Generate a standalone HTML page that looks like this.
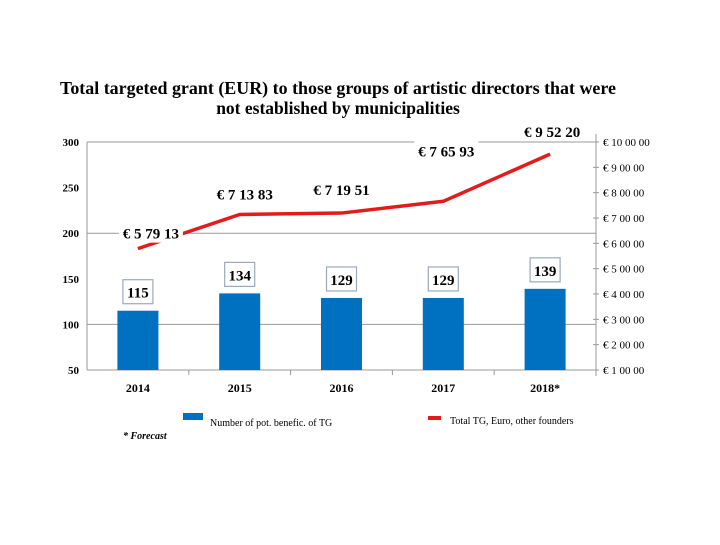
<!DOCTYPE html>
<html><head><meta charset="utf-8"><style>
body{margin:0;background:#fff;width:720px;height:540px;overflow:hidden}
svg text{font-family:"Liberation Serif",serif}
</style></head><body>
<svg width="720" height="540" id="c">
<text x="338" y="94" text-anchor="middle" font-size="17.5" font-weight="bold" textLength="556" lengthAdjust="spacingAndGlyphs">Total targeted grant (EUR) to those groups of artistic directors that were</text>
<text x="338" y="114" text-anchor="middle" font-size="17.5" font-weight="bold">not established by municipalities</text>
<g id="g"></g>
</svg>
<script>
const categories=["2014","2015","2016","2017","2018*"];
const counts=[115,134,129,129,139];
const totals=[579130,713830,719510,765930,952200];
const totalLabels=["€ 5 79 13","€ 7 13 83","€ 7 19 51","€ 7 65 93","€ 9 52 20"];
const leftTicks=[50,100,150,200,250,300];
const rightTicks=[100000,200000,300000,400000,500000,600000,700000,800000,900000,1000000];
const rightTickLabels=["€ 1 00 00","€ 2 00 00","€ 3 00 00","€ 4 00 00","€ 5 00 00","€ 6 00 00","€ 7 00 00","€ 8 00 00","€ 9 00 00","€ 10 00 00"];
const NS="http://www.w3.org/2000/svg",g=document.getElementById('g');
const X0=87,X1=596,Y0=370,Y1=142;
const band=(X1-X0)/categories.length;
const xc=i=>X0+band*(i+0.5);
const yl=v=>Y0-(v-50)/250*(Y0-Y1);
const yr=v=>Y0-(v-100000)/900000*(Y0-Y1);
function el(t,a,txt){const e=document.createElementNS(NS,t);for(const k in a)e.setAttribute(k,a[k]);if(txt!=null)e.textContent=txt;g.appendChild(e);return e;}
[50,100,200,300].forEach(v=>{const e=el('line',{x1:X0,x2:X1,y1:yl(v),y2:yl(v),stroke:'#999','stroke-width':1});

});
let a=el('line',{x1:X0,x2:X0,y1:Y1,y2:Y0,stroke:'#999'});


a=el('line',{x1:X1,x2:X1,y1:Y1-8,y2:Y0+6,stroke:'#999'});


leftTicks.forEach(v=>{const t=el('text',{x:79,y:yl(v)+4,'text-anchor':'end','font-size':11,'font-weight':'bold'},String(v));

});
rightTicks.forEach((v,i)=>{const l=el('line',{x1:X1-3,x2:X1+3,y1:yr(v),y2:yr(v),stroke:'#999'});


const t=el('text',{x:603,y:yr(v)+4,'font-size':11},rightTickLabels[i]);

});
categories.forEach((c,i)=>{
 const x=xc(i);
 if(i>0){const tk=el('line',{x1:X0+band*i,x2:X0+band*i,y1:Y0,y2:Y0+5,stroke:'#999'});
 
 }
 const b=el('rect',{x:x-20.5,y:yl(counts[i]),width:41,height:Y0-yl(counts[i]),fill:'#0070c0'});
 
 
 const by=yl(counts[i])-31;
 const r=el('rect',{x:x-15,y:by,width:30,height:24,fill:'#fff',stroke:'#9ab','stroke-width':1.2});
 
 
 const t=el('text',{x:x,y:by+18,'text-anchor':'middle','font-size':15,'font-weight':'bold'},String(counts[i]));
 
 
 const xl=el('text',{x:x,y:392,'text-anchor':'middle','font-size':12,'font-weight':'bold'},c);
 
 
});
const pts=totals.map((v,i)=>[xc(i)+(i==4?5:0),yr(v)]);
const ln=el('polyline',{points:pts.map(p=>p.join(',')).join(' '),fill:'none',stroke:'#e31b1b','stroke-width':3.5});


const dxs=[13,5,0,3,7],dys=[-10,-15,-18,-45,-17];
totals.forEach((v,i)=>{const x=xc(i)+dxs[i];
 const y=yr(v)+dys[i];
 const bg=el('rect',{x:x-32,y:y-15,width:64,height:19,fill:'#fff'});
 
 
 const t=el('text',{x:x,y:y,'text-anchor':'middle','font-size':15,'font-weight':'bold'},totalLabels[i]);
 
 });
let s=el('rect',{x:183,y:413,width:20,height:7,fill:'#0070c0'});


s=el('text',{x:210,y:426,'font-size':10},'Number of pot. benefic. of TG');


s=el('rect',{x:428,y:416,width:13,height:4,fill:'#e31b1b'});


s=el('text',{x:450,y:424,'font-size':10},'Total TG, Euro, other founders');


s=el('text',{x:123,y:439,'font-size':10,'font-weight':'bold','font-style':'italic'},'* Forecast');


</script>
</body></html>
